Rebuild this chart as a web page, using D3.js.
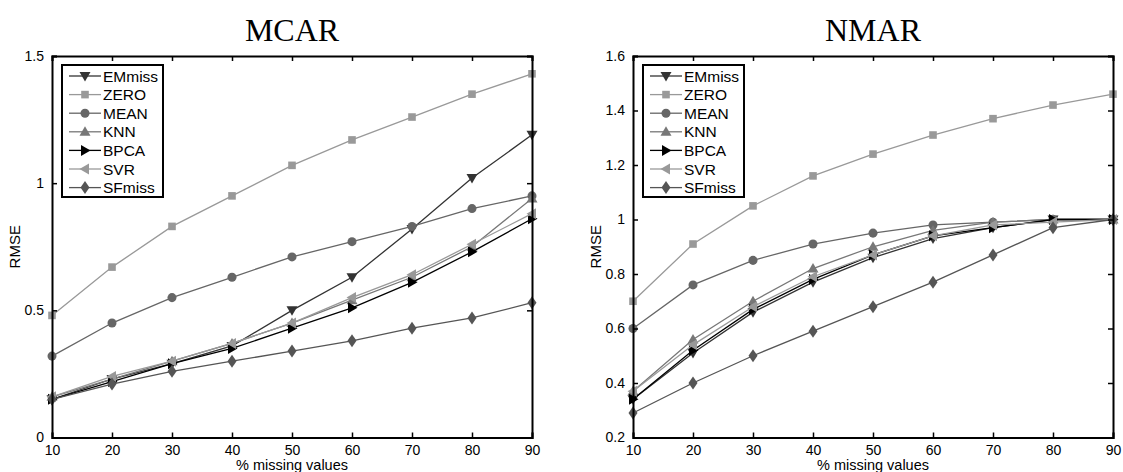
<!DOCTYPE html>
<meta charset="utf-8">
<style>
body { margin: 0; background: #fff; }
text { font-family: "Liberation Sans", Arial, sans-serif; }
.title { font-family: "Liberation Serif", "Times New Roman", serif; }
</style>
<svg width="1123" height="472"></svg>
<script src="https://d3js.org/d3.v7.min.js"></script>
<script>
// x axis: % missing values
var xVals = [10, 20, 30, 40, 50, 60, 70, 80, 90];
var methods = ["EMmiss", "ZERO", "MEAN", "KNN", "BPCA", "SVR", "SFmiss"];

// MCAR panel
var mcarEMmiss = [0.15, 0.23, 0.29, 0.36, 0.50, 0.63, 0.82, 1.02, 1.19];
var mcarZERO   = [0.48, 0.67, 0.83, 0.95, 1.07, 1.17, 1.26, 1.35, 1.43];
var mcarMEAN   = [0.32, 0.45, 0.55, 0.63, 0.71, 0.77, 0.83, 0.90, 0.95];
var mcarKNN    = [0.16, 0.23, 0.30, 0.37, 0.45, 0.54, 0.63, 0.75, 0.94];
var mcarBPCA   = [0.15, 0.22, 0.29, 0.35, 0.43, 0.51, 0.61, 0.73, 0.86];
var mcarSVR    = [0.16, 0.24, 0.30, 0.37, 0.45, 0.55, 0.64, 0.76, 0.88];
var mcarSFmiss = [0.15, 0.21, 0.26, 0.30, 0.34, 0.38, 0.43, 0.47, 0.53];
var mcarTicks  = [0, 0.5, 1, 1.5];

// NMAR panel
var nmarEMmiss = [0.34, 0.51, 0.66, 0.77, 0.86, 0.93, 0.97, 1.00, 1.00];
var nmarZERO   = [0.70, 0.91, 1.05, 1.16, 1.24, 1.31, 1.37, 1.42, 1.46];
var nmarMEAN   = [0.60, 0.76, 0.85, 0.91, 0.95, 0.98, 0.99, 1.00, 1.00];
var nmarKNN    = [0.37, 0.56, 0.70, 0.82, 0.90, 0.96, 0.99, 1.00, 1.00];
var nmarBPCA   = [0.34, 0.52, 0.67, 0.78, 0.87, 0.94, 0.97, 1.00, 1.00];
var nmarSVR    = [0.37, 0.54, 0.68, 0.79, 0.87, 0.94, 0.98, 0.99, 1.00];
var nmarSFmiss = [0.29, 0.40, 0.50, 0.59, 0.68, 0.77, 0.87, 0.97, 1.00];
var nmarTicks  = [0.2, 0.4, 0.6, 0.8, 1, 1.2, 1.4, 1.6];

// grey levels and marker per method
var colours = {EMmiss: "#333", ZERO: "#999", MEAN: "#666", KNN: "#777", BPCA: "#000", SVR: "#999", SFmiss: "#555"};
var markers = {EMmiss: "v", ZERO: "s", MEAN: "o", KNN: "^", BPCA: ">", SVR: "<", SFmiss: "d"};

function markerPath(m) {
  switch (m) {
    case "v": return "M-5.5,-4L5.5,-4L0,5.5Z";
    case "^": return "M-5.5,4L5.5,4L0,-5.5Z";
    case ">": return "M-4,-5.5L-4,5.5L5.5,0Z";
    case "<": return "M4,-5.5L4,5.5L-5.5,0Z";
    case "s": return "M-3.8,-3.8L3.8,-3.8L3.8,3.8L-3.8,3.8Z";
    case "d": return "M0,-6.5L4.5,0L0,6.5L-4.5,0Z";
    case "o": return d3.symbol(d3.symbolCircle, 64)();
  }
}

var svg = d3.select("svg");

function drawPanel(opt) {
  var g = svg.append("g");
  var x = d3.scaleLinear().domain([10, 90]).range([opt.left, opt.right]);
  var y = d3.scaleLinear().domain(opt.yDomain).range([opt.bottom, opt.top]);

  // title
  g.append("text").attr("class", "title")
    .attr("x", (opt.left + opt.right) / 2).attr("y", 41)
    .attr("text-anchor", "middle").attr("font-size", 32)
    .text(opt.title);

  // series
  methods.forEach(function(m) {
    var vals = opt.series[m];
    var pts = xVals.map(function(v, i) { return [x(v), y(vals[i])]; });
    g.append("path")
      .attr("d", d3.line()(pts))
      .attr("fill", "none")
      .attr("stroke", colours[m])
      .attr("stroke-width", 1.3);
    g.selectAll(null).data(pts).enter().append("path")
      .attr("d", markerPath(markers[m]))
      .attr("transform", function(p) { return "translate(" + p[0] + "," + p[1] + ")"; })
      .attr("fill", colours[m]);
  });

  // frame with inward ticks
  var axB = d3.axisBottom(x).tickValues(xVals).tickSize(-5).tickPadding(8).tickFormat(d3.format("d"));
  var axT = d3.axisTop(x).tickValues(xVals).tickSize(-5).tickFormat("");
  var axL = d3.axisLeft(y).tickValues(opt.ticks).tickSize(-5).tickPadding(8).tickFormat(function(d) { return String(d); });
  var axR = d3.axisRight(y).tickValues(opt.ticks).tickSize(-5).tickFormat("");

  [[axB, "translate(0," + opt.bottom + ")"], [axT, "translate(0," + opt.top + ")"],
   [axL, "translate(" + opt.left + ",0)"], [axR, "translate(" + opt.right + ",0)"]].forEach(function(a) {
    var ag = g.append("g").attr("transform", a[1]).call(a[0]);
    ag.select(".domain").attr("stroke", "#000").attr("stroke-width", 2);
    ag.selectAll(".tick line").attr("stroke", "#000").attr("stroke-width", 1.5);
    ag.selectAll("text").attr("font-size", 14).attr("fill", "#000")
      .attr("font-family", "Liberation Sans, Arial, sans-serif");
  });

  // axis labels
  g.append("text")
    .attr("x", (opt.left + opt.right) / 2).attr("y", 469.5)
    .attr("text-anchor", "middle").attr("font-size", 14.5)
    .text("% missing values");
  g.append("text")
    .attr("transform", "translate(" + (opt.left - 32) + "," + ((opt.top + opt.bottom) / 2) + ") rotate(-90)")
    .attr("text-anchor", "middle").attr("font-size", 15)
    .text("RMSE");

  // legend
  var lx = opt.left + 10, ly = opt.top + 9, lw = 101, step = 18.6;
  var lg = g.append("g").attr("transform", "translate(" + lx + "," + ly + ")");
  lg.append("rect").attr("width", lw).attr("height", 132)
    .attr("fill", "#fff").attr("stroke", "#000").attr("stroke-width", 2);
  methods.forEach(function(m, i) {
    var yy = 11 + i * step;
    lg.append("line").attr("x1", 7).attr("x2", 39).attr("y1", yy).attr("y2", yy)
      .attr("stroke", colours[m]).attr("stroke-width", 1.3);
    lg.append("path").attr("d", markerPath(markers[m]))
      .attr("transform", "translate(23," + yy + ")").attr("fill", colours[m]);
    lg.append("text").attr("x", 41).attr("y", yy + 5.5).attr("font-size", 15.5).text(m);
  });
}

drawPanel({
  title: "MCAR", left: 52, right: 532, top: 56, bottom: 437.5, yDomain: [0, 1.5], ticks: mcarTicks,
  series: {EMmiss: mcarEMmiss, ZERO: mcarZERO, MEAN: mcarMEAN, KNN: mcarKNN, BPCA: mcarBPCA, SVR: mcarSVR, SFmiss: mcarSFmiss}
});
drawPanel({
  title: "NMAR", left: 633, right: 1113, top: 56, bottom: 437.5, yDomain: [0.2, 1.6], ticks: nmarTicks,
  series: {EMmiss: nmarEMmiss, ZERO: nmarZERO, MEAN: nmarMEAN, KNN: nmarKNN, BPCA: nmarBPCA, SVR: nmarSVR, SFmiss: nmarSFmiss}
});
</script>
